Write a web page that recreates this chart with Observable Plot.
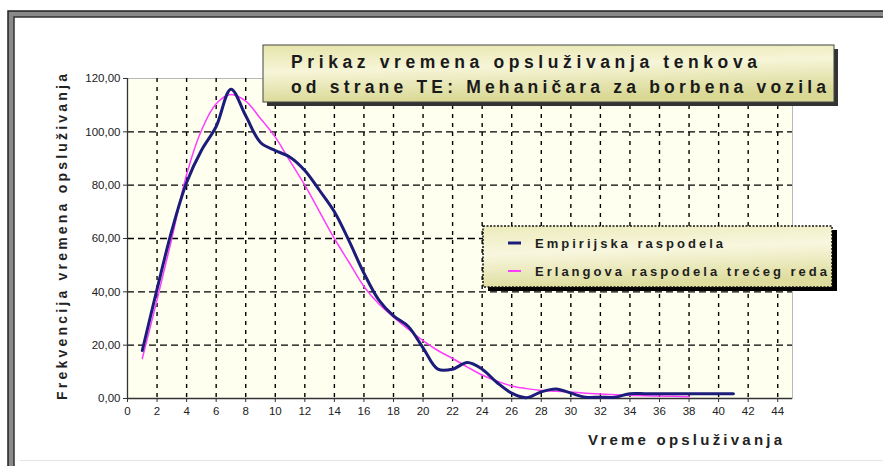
<!DOCTYPE html>
<html><head><meta charset="utf-8">
<script src="https://cdn.jsdelivr.net/npm/d3@7"></script>
<script src="https://cdn.jsdelivr.net/npm/@observablehq/plot@0.6"></script>
<style>
body{margin:0;background:#fff;}
#chart{position:relative;width:883px;height:466px;}
</style></head><body><div id="chart"></div>
<script>
const titleLines = ["Prikaz vremena opsluživanja tenkova", "od strane TE: Mehaničara za borbena vozila"];
const xLabel = "Vreme opsluživanja";
const yLabel = "Frekvencija vremena opsluživanja";
const seriesNames = ["Empirijska raspodela", "Erlangova raspodela trećeg reda"];
const seriesColors = ["#1c1c7a", "#ff3cff"];

const empX = [1,2,3,4,5,6,7,8,9,10,11,12,13,14,15,16,17,18,19,20,21,22,23,24,25,26,27,28,29,30,31,32,33,34,35,36,37,38,39,40,41];
const empY = [18,41,63,81,93,102,116,106,96,93,90.5,85.5,78,70,59,47,37,31,27,19,11,11,13.5,11,6,2,0.3,2.5,3.6,2,0.5,0.5,0.5,1.8,1.8,1.8,1.8,1.8,1.8,1.8,1.8];

const erlX = [1,2,3,4,5,6,7,8,9,10,11,12,13,14,15,16,17,18,19,20,21,22,23,24,25,26,27,28,29,30,31,32,33,34,35,36,37,38];
const erlY = [15,37,60,84,100.5,110.5,114,111.5,105,98,89,80,70,60,51,42,35.5,30.5,26,21.7,18,15,11.8,8.8,6.5,4.7,3.7,3,2.7,2.4,2,1.7,1.4,1.2,1,0.9,0.8,0.7];

const xTicks = [0,2,4,6,8,10,12,14,16,18,20,22,24,26,28,30,32,34,36,38,40,42,44];
const yTicks = [0,20,40,60,80,100,120];

const emp = empX.map((x, i) => ({x, y: empY[i]}));
const erl = erlX.map((x, i) => ({x, y: erlY[i]}));
const fmt = v => v.toFixed(2).replace(".", ",");

const chart = Plot.plot({
  width: 883, height: 466,
  marginTop: 78, marginBottom: 68, marginLeft: 127, marginRight: 91,
  style: {background: "transparent", fontFamily: "'Liberation Sans', Arial, sans-serif", fontSize: "11.5px", color: "#222"},
  x: {domain: [0, 45], label: null},
  y: {domain: [0, 120], label: null},
  marks: [
    Plot.frame({fill: "#fffff0", stroke: "#b8b8b8"}),
    Plot.gridX(xTicks.filter(d => d > 0), {stroke: "#000", strokeOpacity: 1, strokeWidth: 1.4, strokeDasharray: "4,5"}),
    Plot.gridY(yTicks.filter(d => d > 0 && d < 120), {stroke: "#000", strokeOpacity: 1, strokeWidth: 1.4, strokeDasharray: "7,4"}),
    Plot.ruleX([0], {stroke: "#333", strokeWidth: 1.3}),
    Plot.ruleY([0], {stroke: "#333", strokeWidth: 1.3}),
    Plot.line(erl, {x: "x", y: "y", stroke: seriesColors[1], strokeWidth: 1.5, curve: "catmull-rom"}),
    Plot.line(emp, {x: "x", y: "y", stroke: seriesColors[0], strokeWidth: 3, curve: "catmull-rom"}),
    Plot.axisX({ticks: xTicks, tickFormat: d => String(d), tickSize: 4, tickPadding: 4, label: null, stroke: "#333"}),
    Plot.axisY({ticks: yTicks, tickFormat: fmt, tickSize: 4, tickPadding: 3, label: null, stroke: "#333"})
  ]
});
document.getElementById("chart").appendChild(chart);

const svg = d3.select(chart);
const defs = svg.insert("defs", ":first-child");
const g1 = defs.append("linearGradient").attr("id", "gTitle").attr("x1", "0").attr("y1", "0").attr("x2", "0.25").attr("y2", "1");
g1.append("stop").attr("offset", "0%").attr("stop-color", "#e6e5aa");
g1.append("stop").attr("offset", "45%").attr("stop-color", "#f6f5d8");
g1.append("stop").attr("offset", "100%").attr("stop-color", "#d9d894");
const g2 = defs.append("linearGradient").attr("id", "gLeg").attr("x1", "0").attr("y1", "0").attr("x2", "0.2").attr("y2", "1");
g2.append("stop").attr("offset", "0%").attr("stop-color", "#ecebbb");
g2.append("stop").attr("offset", "45%").attr("stop-color", "#f8f7df");
g2.append("stop").attr("offset", "100%").attr("stop-color", "#dedd9e");

const deco = svg.append("g").attr("text-anchor", "start");
const FF = "'Liberation Sans', Arial, sans-serif";
// outer frame
deco.append("rect").attr("x", 8).attr("y", 11).attr("width", 880).attr("height", 6).attr("fill", "#8a8a8a");
deco.append("rect").attr("x", 8).attr("y", 11).attr("width", 6).attr("height", 460).attr("fill", "#8a8a8a");
deco.append("path").attr("d", "M8,471V11H883").attr("fill", "none").attr("stroke", "#222").attr("stroke-width", 1.5);
deco.append("path").attr("d", "M14,471V17H883").attr("fill", "none").attr("stroke", "#333").attr("stroke-width", 1.5);
deco.append("line").attr("x1", 20).attr("x2", 883).attr("y1", 460.5).attr("y2", 460.5).attr("stroke", "#e4e4e4");

// axis titles
deco.append("text").attr("transform", "translate(67,237) rotate(-90)").attr("text-anchor", "middle")
  .attr("font-family", FF).attr("font-weight", "bold").attr("font-size", 14)
  .attr("fill", "#222").attr("textLength", 326).attr("lengthAdjust", "spacing").text(yLabel);
deco.append("text").attr("x", 588).attr("y", 445).attr("text-anchor", "start")
  .attr("font-family", FF).attr("font-weight", "bold").attr("font-size", 15)
  .attr("fill", "#222").attr("textLength", 194).attr("lengthAdjust", "spacing").text(xLabel);

// title box
deco.append("rect").attr("x", 267).attr("y", 49).attr("width", 571).attr("height", 57).attr("fill", "#333");
deco.append("rect").attr("x", 263).attr("y", 45).attr("width", 571).attr("height", 57).attr("fill", "url(#gTitle)").attr("stroke", "#444").attr("stroke-width", 1);
titleLines.forEach((t, i) => {
  deco.append("text").attr("x", 291).attr("y", 68 + i * 25).attr("text-anchor", "start")
    .attr("font-family", FF).attr("font-weight", "bold").attr("font-size", 17.5)
    .attr("fill", "#1a1a1a").attr("textLength", i === 0 ? 466 : 535).attr("lengthAdjust", "spacing").text(t);
});

// legend box
deco.append("rect").attr("x", 488).attr("y", 230).attr("width", 349).attr("height", 61).attr("fill", "#000");
deco.append("rect").attr("x", 483).attr("y", 226).attr("width", 349).attr("height", 61).attr("fill", "url(#gLeg)")
  .attr("stroke", "#111").attr("stroke-width", 1.5).attr("stroke-dasharray", "2,1.5");
seriesNames.forEach((n, i) => {
  const yy = 243 + i * 28;
  deco.append("line").attr("x1", 508).attr("x2", 521).attr("y1", yy).attr("y2", yy)
    .attr("stroke", seriesColors[i]).attr("stroke-width", i === 0 ? 3 : 2);
  deco.append("text").attr("x", 535).attr("y", yy + 5).attr("text-anchor", "start")
    .attr("font-family", FF).attr("font-weight", "bold").attr("font-size", 13)
    .attr("fill", "#1e1e1e").attr("textLength", i === 0 ? 188 : 292).attr("lengthAdjust", "spacing").text(n);
});
</script>
</body></html>
